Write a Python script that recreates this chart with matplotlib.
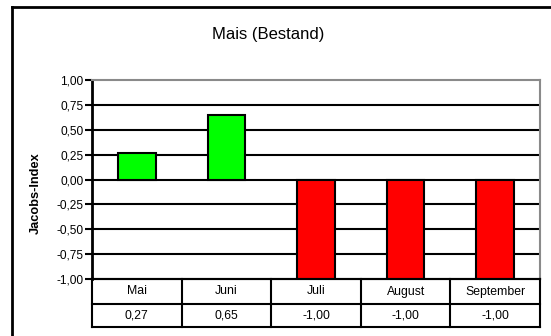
import matplotlib
matplotlib.use("Agg")
import matplotlib.pyplot as plt
from matplotlib.lines import Line2D

plt.rcParams['font.family'] = ['Liberation Sans', 'DejaVu Sans']

months = ["Mai", "Juni", "Juli", "August", "September"]
jacobs = [0.27, 0.65, -1.00, -1.00, -1.00]
yticks = [1.0, 0.75, 0.5, 0.25, 0.0, -0.25, -0.5, -0.75, -1.0]

W, H = 551, 336


def de(v):
    return f"{v:.2f}".replace(".", ",")


fig = plt.figure(figsize=(W / 100, H / 100), dpi=100)
tf = fig.transFigure

# outer chart frame, only left and top edges fall inside the canvas
fig.add_artist(Line2D([12 / W, 12 / W], [0, 1 - 7 / H], transform=tf,
                      color="black", linewidth=2))
fig.add_artist(Line2D([12 / W, 1], [1 - 7 / H, 1 - 7 / H], transform=tf,
                      color="black", linewidth=2))

x0, x1, y_top, y_bot = 92, 540, 80, 279
ax = fig.add_axes([x0 / W, 1 - y_bot / H, (x1 - x0) / W, (y_bot - y_top) / H])

colors = ["#00FF00" if v >= 0 else "#FF0000" for v in jacobs]
pos = range(len(months))
ax.bar(pos, jacobs, width=0.42, color=colors, edgecolor="black",
       linewidth=1.5, zorder=3)

ax.set_xlim(-0.5, len(months) - 0.5)
ax.set_ylim(-1, 1)
ax.set_yticks(yticks)
ax.set_yticklabels([de(t) for t in yticks], fontsize=8.6)
ax.set_xticks([])
for t in yticks[1:-1]:
    ax.axhline(t, color="black", linewidth=1.5, zorder=1)

ax.spines["top"].set_color("#8a8a8a")
ax.spines["right"].set_color("#8a8a8a")
ax.spines["top"].set_linewidth(1.5)
ax.spines["right"].set_linewidth(1.5)
ax.spines["left"].set_linewidth(2)
ax.spines["bottom"].set_linewidth(1.5)
ax.tick_params(axis="y", direction="out", length=5, width=1.5, pad=1)

fig.text(36 / W, 1 - 193 / H, "Jacobs-Index", rotation=90, ha="center",
         va="center", fontsize=9.2, fontweight="bold")

fig.text(268 / W, 1 - 34 / H, "Mais (Bestand)", ha="center", va="center",
         fontsize=12)

# data table under the plot
row_y = [279, 304, 327]
col_w = (x1 - x0) / len(months)
for y in row_y:
    fig.add_artist(Line2D([x0 / W, x1 / W], [1 - y / H, 1 - y / H],
                          transform=tf, color="black", linewidth=1.5))
for i in range(len(months) + 1):
    x = (x0 + i * col_w) / W
    fig.add_artist(Line2D([x, x], [1 - row_y[0] / H, 1 - row_y[-1] / H],
                          transform=tf, color="black", linewidth=1.5))
for i, (m, v) in enumerate(zip(months, jacobs)):
    cx = (x0 + (i + 0.5) * col_w) / W
    fig.text(cx, 1 - (row_y[0] + row_y[1]) / 2 / H, m, ha="center",
             va="center", fontsize=8.8)
    fig.text(cx, 1 - (row_y[1] + row_y[2]) / 2 / H, de(v), ha="center",
             va="center", fontsize=8.8)

fig.savefig("out.png", dpi=100)
